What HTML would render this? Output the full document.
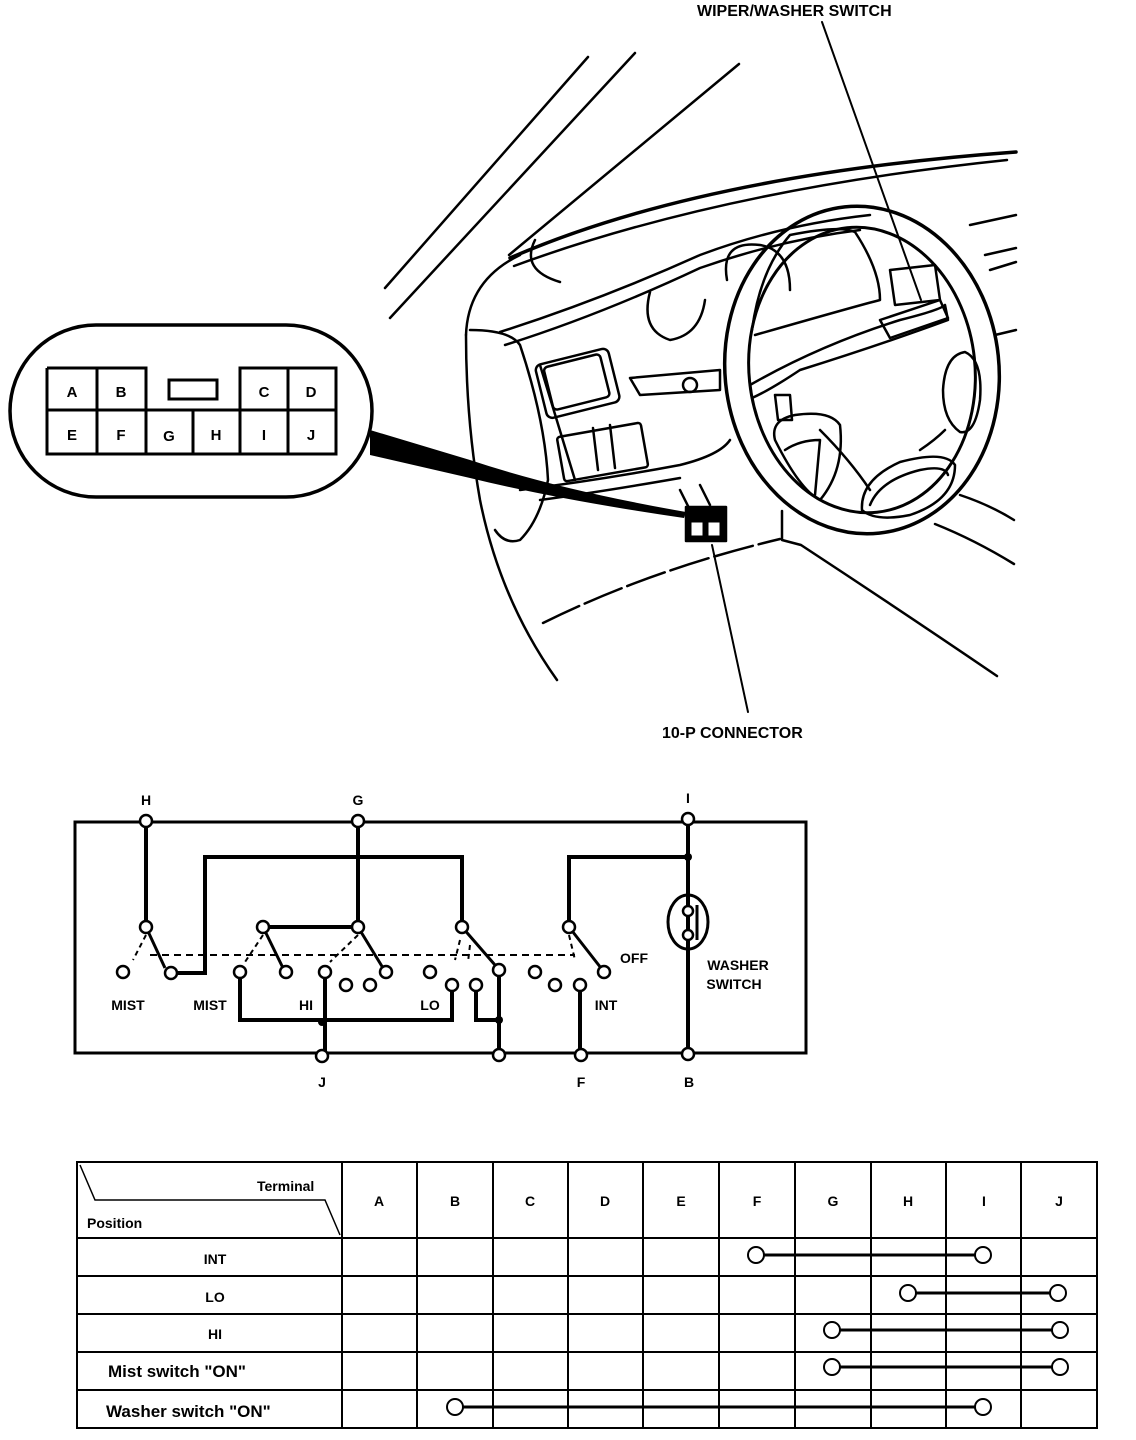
<!DOCTYPE html>
<html><head><meta charset="utf-8"><style>
body{margin:0;background:#fff}
svg{display:block}
text{font-family:"Liberation Sans",sans-serif;font-weight:bold;fill:#000}
</style></head><body>
<svg width="1136" height="1440" viewBox="0 0 1136 1440" xmlns="http://www.w3.org/2000/svg">
<g fill="none" stroke="#000" stroke-width="2.5" stroke-linecap="round" stroke-linejoin="round">
<path d="M385 288 L588 57"/>
<path d="M390 318 L635 53"/>
<path d="M509 255 L739 64"/>
<path d="M510 258 Q700 175 1016 152" stroke-width="3.5"/>
<path d="M514 266 Q720 190 1007 160"/>
<path d="M466 335 Q468 280 520 255"/>
<path d="M466 335 Q466 420 480 500 Q500 600 557 680"/>
<path d="M470 330 Q510 330 520 345 Q545 420 548 480 Q540 520 520 540 Q505 545 495 530"/>
<path d="M535 240 Q520 270 560 282"/>
<path d="M500 332 Q600 300 700 255 Q780 225 870 215"/>
<path d="M505 345 Q600 315 700 268 Q780 240 860 230"/>
<path d="M540 365 Q560 430 575 480"/>
<path d="M650 292 Q640 330 670 340 Q700 335 705 300"/>
<path d="M727 280 Q720 240 760 245 Q790 250 790 290"/>
<rect x="540" y="356" width="75" height="55" rx="6" transform="rotate(-14 577 383)"/>
<rect x="548" y="360" width="58" height="44" rx="4" transform="rotate(-14 577 383)"/>
<rect x="560" y="430" width="85" height="45" rx="3" transform="rotate(-10 600 452)"/>
<path d="M593 428 L598 470 M610 425 L615 468"/>
<path d="M630 378 L720 370 L720 390 L640 395 Z"/>
<circle cx="690" cy="385" r="7"/>
<path d="M520 490 Q600 480 680 465 Q720 455 730 440"/>
<path d="M540 500 Q600 492 680 478"/>
<!-- steering wheel -->
<ellipse cx="862" cy="370" rx="137" ry="164" stroke-width="3.5" transform="rotate(-6 862 370)"/>
<ellipse cx="862" cy="370" rx="113" ry="143" stroke-width="3" transform="rotate(-6 862 370)"/>
<path d="M752 330 Q760 270 790 235 Q840 225 855 232 Q880 270 880 300 Q860 305 755 335"/>
<path d="M750 385 Q820 345 900 320 Q940 310 945 305 L948 320 Q880 345 800 370 Q770 390 752 398 Z"/>
<path d="M775 440 Q770 420 795 415 Q830 410 840 425 Q845 470 820 500 Q800 490 775 440"/>
<path d="M785 450 Q800 440 820 440 L815 495"/>
<path d="M862 510 Q860 480 900 462 Q945 450 955 465 Q955 500 910 515 Q875 522 862 510"/>
<path d="M870 505 Q880 480 920 470 Q945 465 948 475"/>
<path d="M943 390 Q945 355 965 352 Q983 360 980 400 Q975 435 960 432 Q943 420 943 390"/>
<path d="M775 395 L790 395 L792 420 L778 420 Z"/>
<path d="M890 270 L935 265 L940 300 L895 305 Z"/>
<path d="M880 320 L940 300 L948 318 L890 338 Z"/>
<path d="M820 430 Q850 460 870 490 M945 430 Q935 440 920 450"/>
<path d="M970 225 L1016 215 M985 255 L1016 248 M990 270 L1016 262 M995 335 L1016 330"/>
<path d="M935 524 Q975 540 1014 564"/>
<path d="M960 495 Q990 505 1014 520"/>
<path d="M782 511 L782 540 L801 545 Q900 610 997 676"/>
<path d="M543 623 Q650 570 780 539" stroke-dasharray="40 6"/>
<path d="M680 490 L690 510 M700 485 L710 505"/>
<rect x="686" y="507" width="40" height="34" fill="#000"/>
<rect x="691" y="522" width="12" height="14" fill="#fff" stroke-width="1"/>
<rect x="708" y="522" width="12" height="14" fill="#fff" stroke-width="1"/>
<path d="M822 22 L921 300" stroke-width="2"/>
<path d="M712 545 L748 712" stroke-width="2"/>
</g>
<path d="M370 430 L470 460 Q560 490 686 512 L684 518 Q560 500 470 478 L370 455 Z" fill="#000"/>
<rect x="10" y="325" width="362" height="172" rx="86" fill="#fff" stroke="#000" stroke-width="3.5"/>
<g fill="none" stroke="#000" stroke-width="3">
<path d="M47 368 H146 V410 M47 368 V454 H336 V368 H240 V410"/>
<path d="M97 368 V454 M288 368 V454 M47 410 H336 M146 410 V454 M193 410 V454 M240 410 V454"/>
<rect x="169" y="380" width="48" height="19"/>
</g>
<g font-size="15" text-anchor="middle">
<text x="72" y="397">A</text><text x="121" y="397">B</text><text x="264" y="397">C</text><text x="311" y="397">D</text>
<text x="72" y="440">E</text><text x="121" y="440">F</text><text x="169" y="441">G</text><text x="216" y="440">H</text><text x="264" y="440">I</text><text x="311" y="440">J</text>
</g>
<text x="697" y="16" font-size="16">WIPER/WASHER SWITCH</text>
<text x="662" y="738" font-size="16">10-P CONNECTOR</text>

<g fill="none" stroke="#000" stroke-width="3">
<path d="M75 822 H806 V1053 H75 Z"/>
<path d="M146 821 V927 M358 821 V927 M263 927 H358" stroke-width="4"/>
<path d="M171 973 H205 V857 H462 V927" stroke-width="4"/>
<path d="M688 819 V1054 M569 927 V857 H688" stroke-width="4"/>
<path d="M325 972 V1056 M240 972 V1020 H452 V985" stroke-width="4"/>
<path d="M476 985 V1020 H499 M499 970 V1055 M580 985 V1055" stroke-width="4"/>
<path d="M146 927 L165 968 M263 927 L283 968 M358 927 L383 968 M462 927 L495 965 M569 927 L601 968"/>
<path d="M150 955 H575" stroke-dasharray="7 5" stroke-width="2"/>
<path d="M146 935 L133 960 M263 935 L245 962 M358 935 L330 962 M460 940 L455 960 M470 945 L468 962 M569 935 L575 960" stroke-dasharray="5 4" stroke-width="2"/>
<ellipse cx="688" cy="922" rx="20" ry="27"/>
<path d="M697 905 V940"/>
</g>
<g fill="#fff" stroke="#000" stroke-width="2.5">
<circle cx="146" cy="821" r="6"/><circle cx="358" cy="821" r="6"/><circle cx="688" cy="819" r="6"/>
<circle cx="322" cy="1056" r="6"/><circle cx="499" cy="1055" r="6"/><circle cx="581" cy="1055" r="6"/><circle cx="688" cy="1054" r="6"/>
<circle cx="146" cy="927" r="6"/><circle cx="123" cy="972" r="6"/><circle cx="171" cy="973" r="6"/>
<circle cx="263" cy="927" r="6"/><circle cx="240" cy="972" r="6"/><circle cx="286" cy="972" r="6"/>
<circle cx="358" cy="927" r="6"/><circle cx="325" cy="972" r="6"/><circle cx="386" cy="972" r="6"/>
<circle cx="346" cy="985" r="6"/><circle cx="370" cy="985" r="6"/><circle cx="430" cy="972" r="6"/><circle cx="452" cy="985" r="6"/>
<circle cx="462" cy="927" r="6"/><circle cx="476" cy="985" r="6"/><circle cx="499" cy="970" r="6"/>
<circle cx="569" cy="927" r="6"/><circle cx="535" cy="972" r="6"/><circle cx="555" cy="985" r="6"/><circle cx="580" cy="985" r="6"/><circle cx="604" cy="972" r="6"/>
<circle cx="688" cy="911" r="5"/><circle cx="688" cy="935" r="5"/>
</g>
<g fill="#000"><circle cx="688" cy="857" r="4"/><circle cx="322" cy="1022" r="4"/><circle cx="499" cy="1020" r="4"/></g>
<g font-size="14" text-anchor="middle">
<text x="146" y="805">H</text><text x="358" y="805">G</text><text x="688" y="803">I</text>
<text x="322" y="1087">J</text><text x="581" y="1087">F</text><text x="689" y="1087">B</text>
<text x="128" y="1010">MIST</text><text x="210" y="1010">MIST</text><text x="306" y="1010">HI</text><text x="430" y="1010">LO</text><text x="606" y="1010">INT</text><text x="634" y="963">OFF</text>
<text x="738" y="970">WASHER</text><text x="734" y="989">SWITCH</text>
</g>

<g fill="none" stroke="#000" stroke-width="2">
<rect x="77" y="1162" width="1020" height="266"/>
<path d="M77 1238 H1097 M77 1276 H1097 M77 1314 H1097 M77 1352 H1097 M77 1390 H1097"/>
<path d="M342 1162 V1428 M417 1162 V1428 M493 1162 V1428 M568 1162 V1428 M643 1162 V1428 M719 1162 V1428 M795 1162 V1428 M871 1162 V1428 M946 1162 V1428 M1021 1162 V1428"/>
<path d="M80 1165 L95 1200 H325 L340 1235" stroke-width="1.5"/>
<path d="M756 1255 H983 M908 1293 H1058 M832 1330 H1060 M832 1367 H1060 M455 1407 H983" stroke-width="3"/>
</g>
<g fill="#fff" stroke="#000" stroke-width="2">
<circle cx="756" cy="1255" r="8"/><circle cx="983" cy="1255" r="8"/>
<circle cx="908" cy="1293" r="8"/><circle cx="1058" cy="1293" r="8"/>
<circle cx="832" cy="1330" r="8"/><circle cx="1060" cy="1330" r="8"/>
<circle cx="832" cy="1367" r="8"/><circle cx="1060" cy="1367" r="8"/>
<circle cx="455" cy="1407" r="8"/><circle cx="983" cy="1407" r="8"/>
</g>
<g font-size="14" text-anchor="middle">
<text x="379" y="1206">A</text><text x="455" y="1206">B</text><text x="530" y="1206">C</text><text x="605" y="1206">D</text><text x="681" y="1206">E</text><text x="757" y="1206">F</text><text x="833" y="1206">G</text><text x="908" y="1206">H</text><text x="984" y="1206">I</text><text x="1059" y="1206">J</text>
<text x="215" y="1264">INT</text><text x="215" y="1302">LO</text><text x="215" y="1339">HI</text>
</g>
<text x="257" y="1191" font-size="14">Terminal</text>
<text x="87" y="1228" font-size="14">Position</text>
<text x="108" y="1377" font-size="17">Mist switch "ON"</text>
<text x="106" y="1417" font-size="17">Washer switch "ON"</text>
</svg>
</body></html>
